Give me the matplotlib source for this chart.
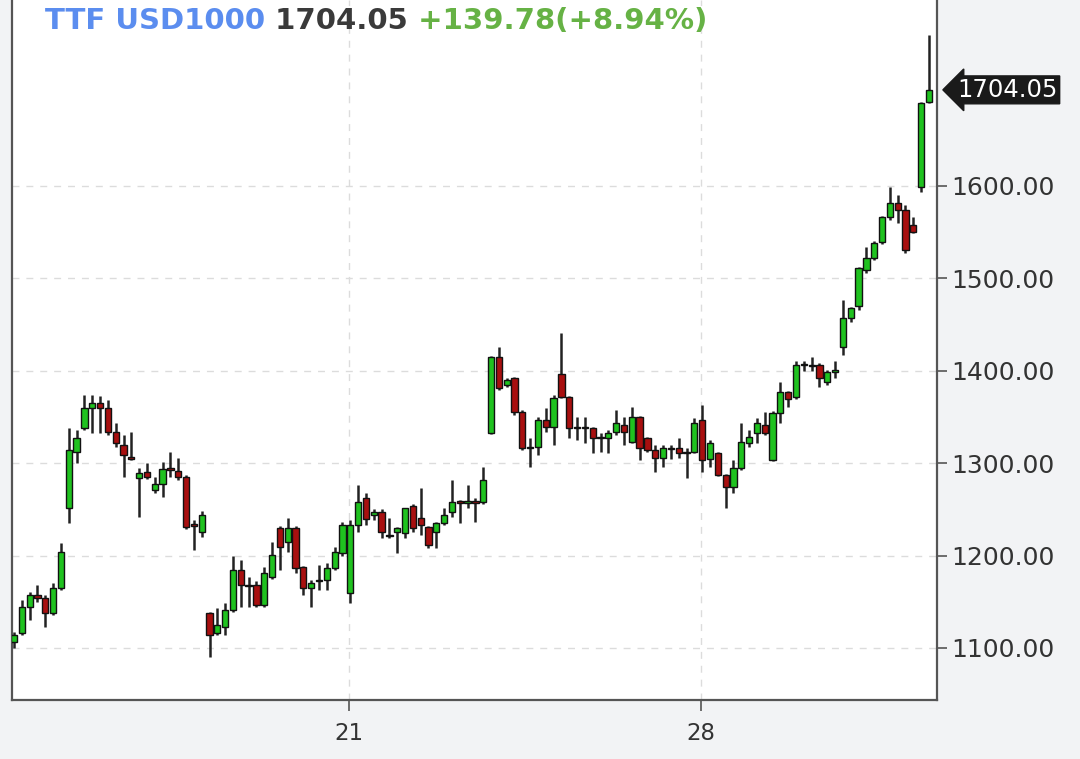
import matplotlib.pyplot as plt

# OHLC candles, one per bar
opens = [1106, 1116, 1144, 1157, 1154, 1138, 1165, 1251, 1312, 1338,
         1360, 1365, 1360, 1334, 1320, 1307, 1284, 1290, 1271, 1278,
         1294, 1292, 1285, 1234, 1226, 1138, 1116, 1123, 1141, 1184,
         1168, 1168, 1146, 1177, 1230, 1215, 1230, 1188, 1165, 1172,
         1174, 1187, 1203, 1159, 1233, 1262, 1244, 1247, 1222, 1225,
         1224, 1254, 1241, 1231, 1225, 1235, 1247, 1258, 1257, 1258,
         1258, 1333, 1415, 1385, 1392, 1355, 1318, 1318, 1347, 1339,
         1396, 1372, 1339, 1338, 1338, 1328, 1327, 1334, 1341, 1323,
         1350, 1327, 1314, 1306, 1316, 1316, 1312, 1312, 1347, 1305,
         1311, 1287, 1274, 1295, 1322, 1333, 1341, 1303, 1354, 1377,
         1372, 1406, 1406, 1406, 1388, 1399, 1426, 1457, 1470, 1509,
         1522, 1539, 1566, 1582, 1574, 1558, 1599, 1691]
highs = [1117, 1152, 1161, 1168, 1157, 1170, 1214, 1338, 1336, 1374,
         1374, 1373, 1368, 1343, 1330, 1334, 1295, 1300, 1285, 1301,
         1312, 1306, 1287, 1238, 1248, 1139, 1143, 1149, 1200, 1195,
         1177, 1173, 1188, 1215, 1232, 1241, 1232, 1189, 1174, 1190,
         1192, 1209, 1236, 1239, 1276, 1268, 1250, 1250, 1241, 1231,
         1252, 1256, 1273, 1232, 1236, 1251, 1282, 1260, 1276, 1262,
         1296, 1416, 1426, 1392, 1393, 1358, 1327, 1350, 1360, 1374,
         1441, 1373, 1350, 1350, 1339, 1333, 1336, 1358, 1350, 1361,
         1351, 1328, 1320, 1320, 1320, 1327, 1316, 1349, 1363, 1325,
         1312, 1288, 1303, 1343, 1336, 1349, 1355, 1356, 1388, 1378,
         1411, 1411, 1415, 1408, 1401, 1411, 1477, 1469, 1512, 1534,
         1541, 1567, 1599, 1590, 1579, 1566, 1691, 1763]
lows = [1100, 1114, 1130, 1150, 1123, 1136, 1163, 1235, 1300, 1336,
        1333, 1333, 1330, 1317, 1285, 1303, 1242, 1283, 1268, 1263,
        1285, 1282, 1229, 1206, 1220, 1090, 1114, 1114, 1139, 1144,
        1144, 1144, 1144, 1175, 1184, 1204, 1181, 1157, 1144, 1163,
        1163, 1184, 1200, 1149, 1226, 1233, 1238, 1219, 1219, 1203,
        1219, 1225, 1222, 1208, 1208, 1233, 1242, 1235, 1251, 1236,
        1256, 1332, 1379, 1382, 1352, 1314, 1296, 1309, 1334, 1320,
        1371, 1327, 1325, 1322, 1311, 1312, 1311, 1330, 1320, 1322,
        1303, 1312, 1290, 1296, 1305, 1306, 1284, 1311, 1290, 1296,
        1286, 1251, 1268, 1293, 1318, 1322, 1330, 1302, 1343, 1361,
        1370, 1400, 1400, 1382, 1385, 1392, 1417, 1453, 1466, 1506,
        1520, 1537, 1563, 1560, 1528, 1549, 1593, 1690]
closes = [1114, 1144, 1157, 1154, 1138, 1165, 1204, 1314, 1327, 1360,
          1365, 1360, 1334, 1322, 1309, 1305, 1289, 1285, 1277, 1294,
          1293, 1285, 1231, 1232, 1244, 1114, 1125, 1141, 1184, 1168,
          1167, 1146, 1181, 1201, 1209, 1230, 1187, 1165, 1170, 1174,
          1187, 1204, 1233, 1233, 1258, 1240, 1247, 1225, 1221, 1230,
          1251, 1230, 1233, 1211, 1235, 1244, 1258, 1257, 1258, 1257,
          1282, 1415, 1381, 1390, 1355, 1316, 1316, 1347, 1339, 1371,
          1372, 1338, 1338, 1339, 1327, 1327, 1333, 1344, 1334, 1350,
          1316, 1314, 1306, 1316, 1315, 1311, 1311, 1343, 1303, 1322,
          1287, 1274, 1295, 1323, 1328, 1343, 1333, 1354, 1377, 1370,
          1406, 1406, 1405, 1392, 1399, 1401, 1457, 1468, 1511, 1522,
          1538, 1566, 1582, 1574, 1531, 1550, 1690, 1704.05]

day_tick_pos = [42.85, 87.85]
day_tick_labels = ["21", "28"]
price_ticks = [1100, 1200, 1300, 1400, 1500, 1600]

symbol = "TTF USD1000"
last_price = "1704.05"
change_text = "+139.78(+8.94%)"

up_color = "#1fc21f"
down_color = "#a80f0f"
edge_color = "#111111"

fig = plt.figure(figsize=(10.8, 7.59), dpi=100, facecolor="#f2f3f5")
ax = fig.add_axes([12 / 1080, 59 / 759, 925 / 1080, 700 / 759])
ax.set_facecolor("white")

idx = list(range(len(opens)))
colors = [up_color if c >= o else down_color for o, c in zip(opens, closes)]
bottoms = [min(o, c) for o, c in zip(opens, closes)]
heights = [max(abs(c - o), 1.6) for o, c in zip(opens, closes)]

ax.vlines(idx, lows, highs, color="#222222", linewidth=1.8, zorder=2)
ax.bar(idx, heights, bottom=bottoms, width=0.8, color=colors,
       edgecolor=edge_color, linewidth=1.0, zorder=3)

ax.set_xlim(-0.26, 118.03)
ax.set_ylim(1043.7, 1801.3)

ax.set_yticks(price_ticks)
ax.set_yticklabels([f"{v:.2f}" for v in price_ticks])
ax.yaxis.tick_right()
ax.set_xticks(day_tick_pos)
ax.set_xticklabels(day_tick_labels)

ax.grid(True, color="#dcdcdc", linestyle=(0, (5, 5)), linewidth=1.0, zorder=0)
ax.set_axisbelow(True)

for side in ["left", "right", "bottom"]:
    ax.spines[side].set_color("#555555")
    ax.spines[side].set_linewidth(1.6)
ax.spines["top"].set_visible(False)

ax.tick_params(axis="y", which="both", direction="out", length=7, width=1.2,
               color="#555555", labelsize=18, labelcolor="#333333", pad=3)
ax.tick_params(axis="x", direction="out", length=8, width=1.2,
               color="#555555", labelsize=16.5, labelcolor="#333333", pad=8)

# last price tag on the right axis
ax.text(1.022, closes[-1], last_price, transform=ax.get_yaxis_transform(),
        ha="left", va="center", fontsize=17.5, color="white", zorder=10,
        bbox=dict(boxstyle="larrow,pad=0.08", fc="#1a1a1a", ec="#1a1a1a"),
        clip_on=False)

# header: symbol, price, change
t1 = ax.text(33 / 925, 1 - 21 / 700, symbol, transform=ax.transAxes,
             ha="left", va="center", fontsize=21, fontweight="bold",
             color="#5b8def", zorder=10)
t2 = ax.annotate(" " + last_price, xy=(1, 0), xycoords=t1, va="bottom",
                 fontsize=21, fontweight="bold", color="#3a3a3a", zorder=10)
t3 = ax.annotate(" " + change_text, xy=(1, 0), xycoords=t2, va="bottom",
                 fontsize=21, fontweight="bold", color="#66b245", zorder=10)

fig.savefig("out.png", dpi=100, facecolor=fig.get_facecolor())
